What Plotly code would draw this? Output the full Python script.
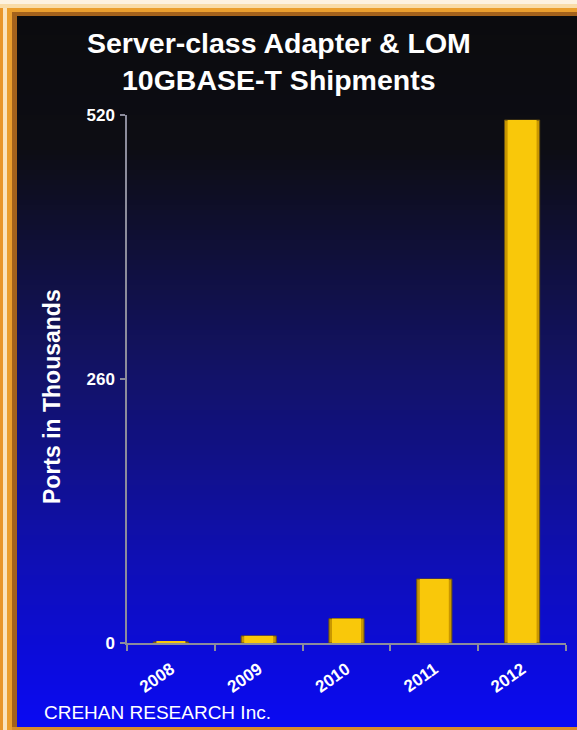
import plotly.graph_objects as go

# Shipment data (thousands of ports)
years = ["2008", "2009", "2010", "2011", "2012"]
ports_k = [1, 7, 24, 63, 515]
y_ticks = [0, 260, 520]

W, H = 577, 730
L, R, T, B = 127, 11, 115, 87          # plot area margins in px
PW, PH = W - L - R, H - T - B


def px(x):
    """pixel x -> paper fraction"""
    return (x - L) / PW


def py(y):
    """pixel y (from top) -> paper fraction"""
    return (H - B - y) / PH


def hexmix(c1, c2, t):
    a = [int(c1[i:i + 2], 16) for i in (1, 3, 5)]
    b = [int(c2[i:i + 2], 16) for i in (1, 3, 5)]
    return "#" + "".join(f"{round(a[k] + (b[k] - a[k]) * t):02x}" for k in range(3))


# vertical background gradient: near black at top fading to bright blue
stops = [(0, "#0b0b0d"), (150, "#0d0d14"), (260, "#10103c"), (360, "#121262"),
         (460, "#111188"), (560, "#0f0fb4"), (650, "#0c0cd8"), (730, "#0a0af4")]


def grad(y):
    for (y0, c0), (y1, c1) in zip(stops, stops[1:]):
        if y0 <= y <= y1:
            return hexmix(c0, c1, (y - y0) / (y1 - y0))
    return stops[-1][1]


shapes = []
step = 5
for y in range(0, H, step):
    shapes.append(dict(type="rect", xref="paper", yref="paper", layer="below",
                       x0=px(0), x1=px(W), y0=py(y + step + 0.5), y1=py(y),
                       fillcolor=grad(y + step / 2), line=dict(width=0)))

# orange frame on the left, top and bottom edges
frame = [
    (0, 0, 3, H, "#e8962a"), (3, 0, 7, H, "#fbe4bc"), (7, 0, 12, H, "#eb9f2e"),
    (12, 0, 17, H, "#a4621c"),
    (0, 0, W, 4, "#fdf2e0"), (0, 4, W, 8, "#f9dca8"), (12, 8, W, 12, "#eb9f2e"),
    (12, 12, W, 16, "#a4621c"),
    (12, H - 3, W, H, "#d88a2a"),
]
for x0, y0, x1, y1, c in frame:
    shapes.append(dict(type="rect", xref="paper", yref="paper", layer="above",
                       x0=px(x0), x1=px(x1), y0=py(y1), y1=py(y0),
                       fillcolor=c, line=dict(width=0)))

fig = go.Figure()
# outer bar body (darker edges)
fig.add_trace(go.Bar(x=years, y=ports_k, width=0.4, marker=dict(
    color="#c99700", line=dict(color="#6a5212", width=1)), hoverinfo="skip"))
# inner bright face
fig.add_trace(go.Bar(x=years, y=ports_k, width=0.33, marker=dict(
    color="#f9c80a", line=dict(width=0))))

font = "Arial, Liberation Sans, sans-serif"
annotations = [
    dict(text="<b>Server-class Adapter & LOM</b>", x=px(279), y=py(43),
         font=dict(size=28.5, color="white", family=font)),
    dict(text="<b>10GBASE-T Shipments</b>", x=px(279), y=py(80),
         font=dict(size=28.5, color="white", family=font)),
    dict(text="<b>Ports in Thousands</b>", x=px(52), y=py(397), textangle=-90,
         font=dict(size=23, color="white", family=font)),
    dict(text="CREHAN RESEARCH Inc.", x=px(42), y=py(712), xanchor="left",
         font=dict(size=19, color="white", family=font)),
]
for a in annotations:
    a.update(xref="paper", yref="paper", showarrow=False)
    a.setdefault("xanchor", "center")
    a.setdefault("yanchor", "middle")

tickfont = dict(size=17, color="white", family=font, weight="bold")

fig.update_layout(
    width=W, height=H, autosize=False,
    margin=dict(l=L, r=R, t=T, b=B, pad=0),
    paper_bgcolor="#0a0af4", plot_bgcolor="rgba(0,0,0,0)",
    barmode="overlay", showlegend=False,
    shapes=shapes, annotations=annotations,
    font=dict(family=font, color="white"),
    xaxis=dict(showline=True, linecolor="#8c8c9c", linewidth=1.5,
               ticks="outside", tickson="boundaries", ticklen=6,
               tickcolor="#8c8c9c", tickwidth=1.5, tickangle=-35,
               ticklabelstandoff=8,
               tickfont=tickfont, showgrid=False, zeroline=False),
    yaxis=dict(range=[0, 520], tickvals=y_ticks, showline=True,
               linecolor="#8c8c9c", linewidth=1.5, ticks="outside", ticklen=5,
               tickcolor="#8c8c9c", tickwidth=1.5, tickfont=tickfont,
               ticklabelstandoff=2,
               showgrid=False, zeroline=False),
)

fig.write_html("out.html")
